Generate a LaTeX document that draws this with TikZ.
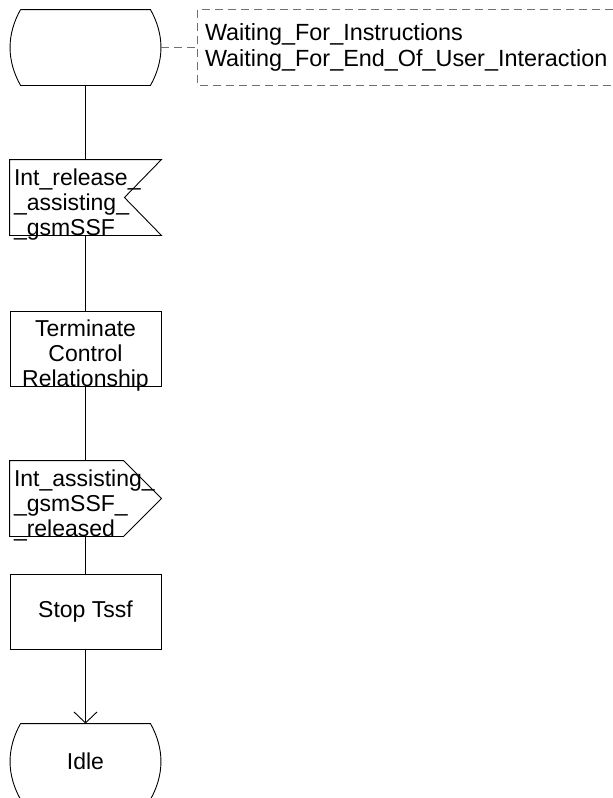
\documentclass[tikz,border=0pt]{standalone}
\usepackage{fontspec}
\setsansfont{Liberation Sans}
\usetikzlibrary{arrows.meta, positioning}
\definecolor{cgrey}{HTML}{707070}
\tikzset{
  every picture/.style={font=\sffamily\fontsize{23}{25}\selectfont, line width=0.9pt},
  shapebox/.style={minimum width=151pt, minimum height=75pt, inner sep=0pt},
  txt/.style={inner sep=0pt},
  arrow/.style={-{Straight Barb[length=11pt, width=23pt]}},
  comment/.style={draw=cgrey, dash pattern=on 8pt off 5pt},
}

\begin{document}
\begin{tikzpicture}[x=1pt, y=-1pt]
  \useasboundingbox (0,0) rectangle (613,798);
  \newcommand{\stateoutline}[1]{\draw ([xshift=11pt]#1.north west) -- ([xshift=-11pt]#1.north east)
    .. controls +(14,25) and +(14,-25) .. ([xshift=-11pt]#1.south east) -- ([xshift=11pt]#1.south west)
    .. controls +(-14,-25) and +(-14,25) .. ([xshift=11pt]#1.north west);}
  % start state and comment
  \node[shapebox] (wait) at (85.5,47.5) {};
  \stateoutline{wait}
  \node[minimum width=415pt, minimum height=75pt, inner sep=0pt] (cbox) at (405.5,47.5) {};
  \draw[comment] (cbox.north east) -- (cbox.north west) -- (cbox.south west) -- (cbox.south east);
  \node[txt, anchor=west, align=left, font=\sffamily\fontsize{23.4}{26.5}\selectfont] (cmt) at ([xshift=7pt]cbox.west) {Waiting\_For\_Instructions\\Waiting\_For\_End\_Of\_User\_Interaction};
  \draw[comment] (wait.east) -- (cbox.west);
  % input signal
  \node[shapebox] (rel) at (85.5,197.5) {};
  \draw (rel.north west) -- (rel.north east) -- ([xshift=-37pt]rel.east) -- (rel.south east) -- (rel.south west) -- cycle;
  \node[txt, anchor=north west, align=left] (trel) at ([shift={(4pt,-9pt)}]rel.north west) {Int\_release\_\\\_assisting\_\\\_gsmSSF};
  % task
  \node[shapebox, draw] (term) at (85.5,348.5) {};
  \node[txt, anchor=north, align=center] (tterm) at ([yshift=-9pt]term.north) {Terminate\\Control\\Relationship};
  % output signal
  \node[shapebox] (done) at (85.5,498.5) {};
  \draw (done.north west) -- ([xshift=-38pt]done.north east) -- (done.east) -- ([xshift=-38pt]done.south east) -- (done.south west) -- cycle;
  \node[txt, anchor=north west, align=left] (tdone) at ([shift={(4pt,-9pt)}]done.north west) {Int\_assisting\_\\\_gsmSSF\_\\\_released};
  % timer and end state
  \node[shapebox, draw] (stop) at (85.5,611.5) {Stop Tssf};
  \node[shapebox] (idle) at (85.5,761.5) {Idle};
  \stateoutline{idle}
  \foreach \u/\v in {wait/rel, rel/term, term/done, done/stop} \draw (\u) -- (\v);
  \draw[arrow] (stop) -- (idle);
\end{tikzpicture}
\end{document}
